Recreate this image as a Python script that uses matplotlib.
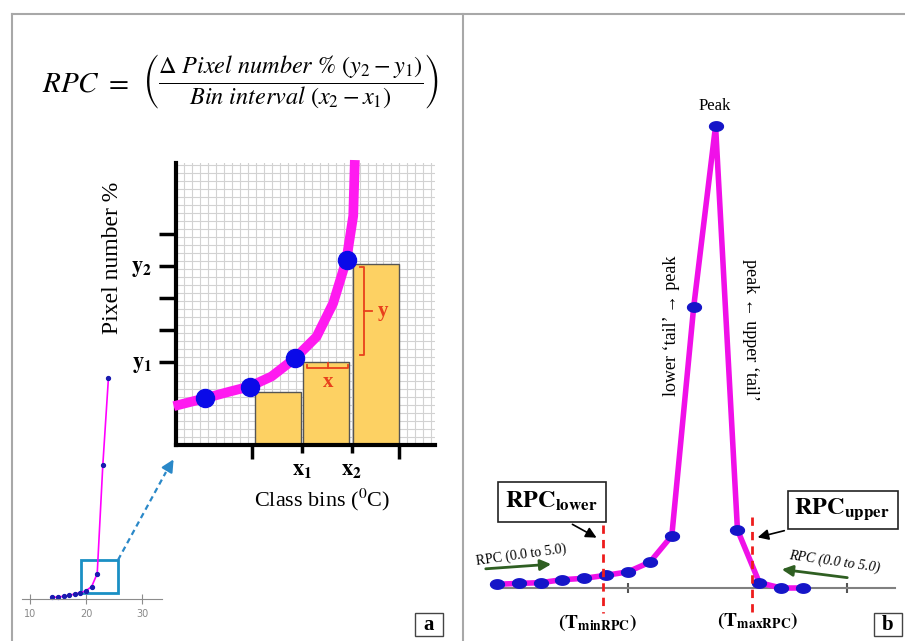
import numpy as np
import matplotlib
matplotlib.use('Agg')
from matplotlib import pyplot as plt
from matplotlib.patches import Rectangle
from matplotlib.path import Path

W, H = 905, 641

# panel a - zoomed class bins
bin_left = [2.06, 3.04, 4.06]
bin_height = [1.66, 2.6, 5.66]
curve_x = [0.50, 1.04, 1.55, 1.96, 2.40, 2.88, 3.32, 3.66, 3.93, 4.07, 4.10]
curve_y = [1.25, 1.46, 1.67, 1.83, 2.14, 2.71, 3.38, 4.43, 5.78, 7.16, 8.75]
dot_x = [1.04, 1.96, 2.88, 3.94]
dot_y = [1.47, 1.81, 2.72, 5.78]
y_ticks = [2.6, 3.6, 4.6, 5.6, 6.6]
y_ticklabels = [r'$\mathbf{y_1}$', '', '', r'$\mathbf{y_2}$', '']
x_ticks = [2.0, 3.02, 4.04, 5.0]
x_ticklabels = ['', r'$\mathbf{x_1}$', r'$\mathbf{x_2}$', '']

# panel a - small overview curve
ov_x = [14, 15, 16, 17, 18, 19, 20, 21, 22, 23, 24]
ov_y = [0.22, 0.26, 0.36, 0.49, 0.66, 0.83, 1.09, 1.62, 3.33, 17.6, 29.0]
ov_ticks = [10, 20, 30]

# panel b - RPC curve
tb_x = [0, 1, 2, 3, 4, 5, 6, 7, 8, 9, 10, 11, 12, 13, 14]
tb_y = [0.8, 1.0, 1.15, 1.8, 2.1, 2.75, 3.5, 5.6, 11.3, 60.8, 100, 12.6, 1.15, 0, 0]
t_min_rpc = 4.84
t_max_rpc = 11.66

plt.rcParams['font.family'] = ['Liberation Serif', 'DejaVu Serif']
plt.rcParams['mathtext.fontset'] = 'stix'

fig = plt.figure(figsize=(W / 100, H / 100), dpi=100)


def px_axes(l, t, r, b):
    return fig.add_axes([l / W, 1 - b / H, (r - l) / W, (b - t) / H])


# flat dot marker
th = np.linspace(0, 2 * np.pi, 41)
ellipse = Path(np.c_[np.cos(th), 0.68 * np.sin(th)])

# ---- zoomed chart
ax = px_axes(176, 163, 435, 445)
ax.set_xlim(0.45, 5.74)
ax.set_ylim(0, 8.81)
for gx in np.arange(0.45, 5.74, 0.163):
    ax.axvline(gx, color='#d2d2d2', lw=0.8, zorder=0)
for gy in np.arange(0, 8.81, 0.25):
    ax.axhline(gy, color='#d2d2d2', lw=0.8, zorder=0)
ax.bar(bin_left, bin_height, width=0.94, align='edge', color='#fdd163',
       edgecolor='#555555', lw=1, zorder=2)
ax.plot(curve_x, curve_y, color='#ff1af0', lw=7, zorder=3, clip_on=False)
ax.plot(dot_x, dot_y, 'o', ms=13, color='#0a0ae8', zorder=4)
for s in ['top', 'right']:
    ax.spines[s].set_visible(False)
for s in ['left', 'bottom']:
    ax.spines[s].set_linewidth(3)
ax.set_xticks(x_ticks, x_ticklabels)
ax.set_yticks(y_ticks, y_ticklabels)
ax.tick_params(axis='y', length=12, width=2.5, pad=5, labelsize=16)
ax.tick_params(axis='x', length=10, width=2.5, pad=2, labelsize=16)
for i in [1, 2]:
    ax.xaxis.get_major_ticks()[i].tick1line.set_markersize(6)

red = '#e8401c'
# y bracket
ax.plot([4.2, 4.29, 4.29, 4.2], [5.56, 5.56, 2.81, 2.81], color=red, lw=1.3, zorder=5)
ax.plot([4.29, 4.45], [4.19, 4.19], color=red, lw=1.3, zorder=5)
ax.text(4.68, 4.2, 'y', color=red, fontsize=15, fontweight='bold', ha='center', va='center', zorder=5)
# x bracket
ax.plot([3.12, 3.12, 3.97, 3.97], [2.5, 2.41, 2.41, 2.5], color=red, lw=1.3, zorder=5)
ax.plot([3.55, 3.55], [2.41, 2.55], color=red, lw=1.3, zorder=5)
ax.text(3.55, 1.98, 'x', color=red, fontsize=15, fontweight='bold', ha='center', va='center', zorder=5)

# ---- small overview chart
ax2 = px_axes(22, 367, 162, 599)
ax2.set_xlim(8.57, 33.57)
ax2.set_ylim(0, 30.5)
ax2.patch.set_alpha(0)
ax2.plot(ov_x, ov_y, color='#ff00ff', lw=1.2, clip_on=False)
ax2.plot(ov_x, ov_y, 'o', ms=2.8, color='#1a1ab0', clip_on=False)
for s in ['top', 'right', 'left']:
    ax2.spines[s].set_visible(False)
ax2.spines['bottom'].set_color('#8c8c8c')
ax2.set_yticks([])
ax2.set_xticks(ov_ticks)
ax2.tick_params(axis='x', direction='inout', length=7, color='#8c8c8c',
                labelcolor='#888888', labelsize=7)
for lab in ax2.get_xticklabels():
    lab.set_family('DejaVu Sans')
ax2.add_patch(Rectangle((19.1, 0.79), 6.6, 4.34, fill=False, ec='#1a8fc4', lw=2, clip_on=False))

# ---- panel b
ax3 = px_axes(495, 100, 895, 588)
ax3.set_xlim(-0.08, 18.2)
ax3.set_ylim(0, 105.6)
ax3.patch.set_alpha(0)
ax3.plot(tb_x, tb_y, color='#f010e8', lw=4, zorder=3, clip_on=False)
ax3.plot(tb_x, tb_y, ls='none', marker=ellipse, ms=10, color='#1515c8', zorder=4, clip_on=False)
for s in ['top', 'right', 'left']:
    ax3.spines[s].set_visible(False)
ax3.spines['bottom'].set_color('#808080')
ax3.spines['bottom'].set_linewidth(1.5)
ax3.set_yticks([])
ax3.set_xticks([6, 16], ['', ''])
ax3.tick_params(axis='x', direction='inout', length=7, width=1.5, color='#555555')
for tx, top in [(t_min_rpc, 13.6), (t_max_rpc, 15.4)]:
    ax3.plot([tx, tx], [top, -5.4], color='#ee1c1c', lw=2, ls=(0, (3, 2.2)), zorder=5, clip_on=False)

# ---- overlay in pixel coordinates
ov = fig.add_axes([0, 0, 1, 1])
ov.set_xlim(0, W)
ov.set_ylim(H, 0)
ov.axis('off')
ov.patch.set_alpha(0)

frame = '#a8a8a8'
ov.plot([12, W], [14, 14], color=frame, lw=1.5)
ov.plot([12, 12], [14, H], color=frame, lw=1.5)
ov.plot([463, 463], [14, H], color=frame, lw=1.5)

ov.text(42, 91, r'$RPC\ =$', fontsize=21, ha='left', va='baseline')
ov.text(290, 82, r'$\left(\dfrac{\Delta\ Pixel\ number\ \%\ (y_2 - y_1)}{Bin\ interval\ (x_2 - x_1)}\right)$',
        fontsize=17.5, ha='center', va='center')

ov.text(112, 258, 'Pixel number %', rotation=90, fontsize=17, ha='center', va='center')
ov.text(322, 500, r'Class bins ($^0$C)', fontsize=16, ha='center', va='center')

ov.plot([118, 166], [560, 472], color='#2a88c8', lw=1.6, ls=(0, (2.5, 1.8)))
ov.annotate('', xy=(175, 457), xytext=(166, 472),
            arrowprops=dict(arrowstyle='-|>', color='#2a88c8', lw=1.6, mutation_scale=18))

ov.add_patch(Rectangle((415, 613), 28, 23, fill=False, ec='#444444', lw=1))
ov.text(429, 625, 'a', fontsize=15, fontweight='bold', ha='center', va='center')
ov.add_patch(Rectangle((874, 613), 28, 23, fill=False, ec='#444444', lw=1))
ov.text(888, 625, 'b', fontsize=15, fontweight='bold', ha='center', va='center')

ov.text(715, 106, 'Peak', fontsize=12, ha='center', va='center')
ov.text(671, 326, 'lower \u2018tail\u2019 \u2192 peak', rotation=90, fontsize=13, ha='center', va='center')
ov.text(750, 330, 'peak \u2190 upper \u2018tail\u2019', rotation=-90, fontsize=13, ha='center', va='center')

ov.add_patch(Rectangle((498, 482), 108, 40, fc='white', ec='#222222', lw=1.2))
ov.text(551, 501, r'$\mathbf{RPC_{lower}}$', fontsize=17.5, ha='center', va='center')
ov.add_patch(Rectangle((788, 491), 110, 38, fc='white', ec='#222222', lw=1.2))
ov.text(842, 509, r'$\mathbf{RPC_{upper}}$', fontsize=17.5, ha='center', va='center')
ov.annotate('', xy=(599, 539), xytext=(570, 523),
            arrowprops=dict(arrowstyle='-|>', color='black', lw=1.2, mutation_scale=16))
ov.annotate('', xy=(755, 538), xytext=(787, 530),
            arrowprops=dict(arrowstyle='-|>', color='black', lw=1.2, mutation_scale=16))

green = '#2f5f22'
ov.annotate('', xy=(554, 564), xytext=(483, 569),
            arrowprops=dict(arrowstyle='-|>', color=green, lw=2, mutation_scale=16))
ov.annotate('', xy=(779, 569), xytext=(850, 578),
            arrowprops=dict(arrowstyle='-|>', color=green, lw=2, mutation_scale=16))
ov.text(521, 555, 'RPC (0.0 to 5.0)', rotation=8, fontsize=10, ha='center', va='center')
ov.text(835, 562, 'RPC (0.0 to 5.0)', rotation=-8, fontsize=10, style='italic', ha='center', va='center')

ov.text(598, 623, r'$\mathbf{(T_{minRPC})}$', fontsize=14, ha='center', va='center')
ov.text(758, 621, r'$\mathbf{(T_{maxRPC})}$', fontsize=14, ha='center', va='center')

fig.savefig('out.png', dpi=100)
